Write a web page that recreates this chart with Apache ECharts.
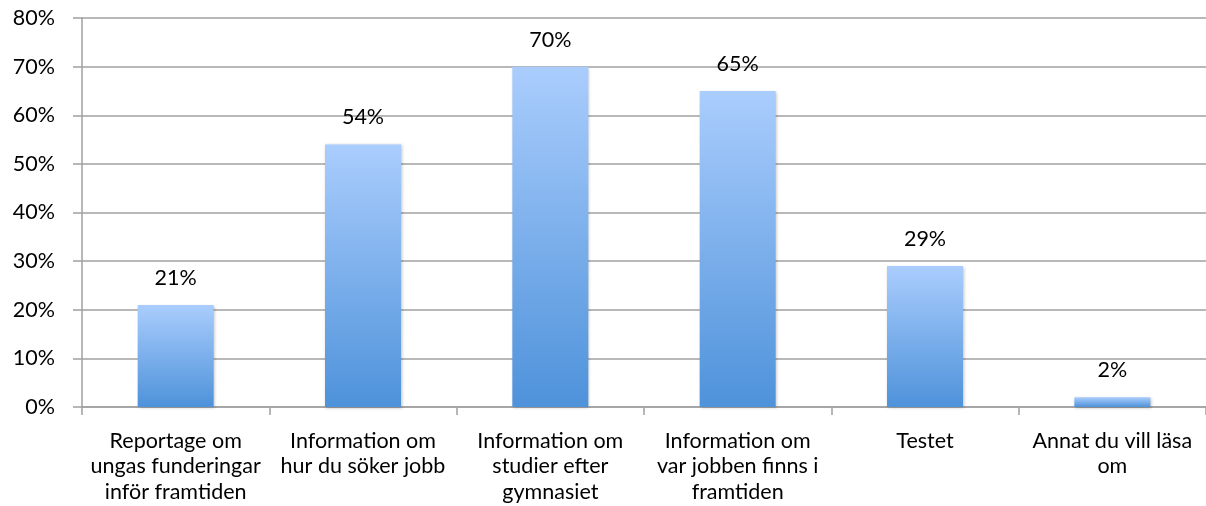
<!DOCTYPE html>
<html><head><meta charset="utf-8">
<script src="https://cdn.jsdelivr.net/npm/echarts@6/dist/echarts.min.js"></script>
<style>html,body{margin:0;padding:0;background:#fff}#c{width:1206px;height:506px}</style>
</head><body><div id="c"></div>
<script>
const categories = [
  "Reportage om\nungas funderingar\ninför framtiden",
  "Information om\nhur du söker jobb",
  "Information om\nstudier efter\ngymnasiet",
  "Information om\nvar jobben finns i\nframtiden",
  "Testet",
  "Annat du vill läsa\nom"
];
const values = [21, 54, 70, 65, 29, 2];
const yTicks = [0, 10, 20, 30, 40, 50, 60, 70, 80];

const font = "Lato, 'Open Sans', sans-serif";
const chart = echarts.init(document.getElementById('c'), null, {renderer: 'canvas'});
chart.setOption({
  animation: false,
  grid: {left: 82, right: 0, top: 18, bottom: 99, containLabel: false},
  xAxis: {
    type: 'category',
    data: categories,
    axisLine: {show: true, lineStyle: {color: '#a0a0a0', width: 1.5}},
    axisTick: {show: true, length: 8, alignWithLabel: false, lineStyle: {color: '#a0a0a0', width: 1.5}},
    axisLabel: {interval: 0, color: '#000', fontFamily: font, fontSize: 21.5, lineHeight: 25.5, margin: 21}
  },
  yAxis: {
    type: 'value',
    min: yTicks[0], max: yTicks[yTicks.length - 1], interval: 10,
    axisLine: {show: true, lineStyle: {color: '#a0a0a0', width: 1.5}},
    axisTick: {show: true, length: 9, lineStyle: {color: '#a0a0a0', width: 1.5}},
    splitLine: {show: true, lineStyle: {color: '#a0a0a0', width: 1.5}},
    axisLabel: {color: '#000', fontFamily: font, fontSize: 21.5, margin: 27, formatter: v => v + '%'}
  },
  series: [{
    type: 'bar',
    data: values,
    barWidth: 76,
    itemStyle: {
      color: new echarts.graphic.LinearGradient(0, 0, 0, 1, [
        {offset: 0, color: '#aacdfd'},
        {offset: 1, color: '#4e92da'}
      ]),
      shadowColor: 'rgba(0,0,0,0.25)', shadowBlur: 3, shadowOffsetX: 1, shadowOffsetY: 1
    },
    label: {show: true, position: 'top', distance: 16, color: '#000', fontFamily: font, fontSize: 21.5, formatter: p => p.value + '%'}
  }]
});
</script></body></html>
